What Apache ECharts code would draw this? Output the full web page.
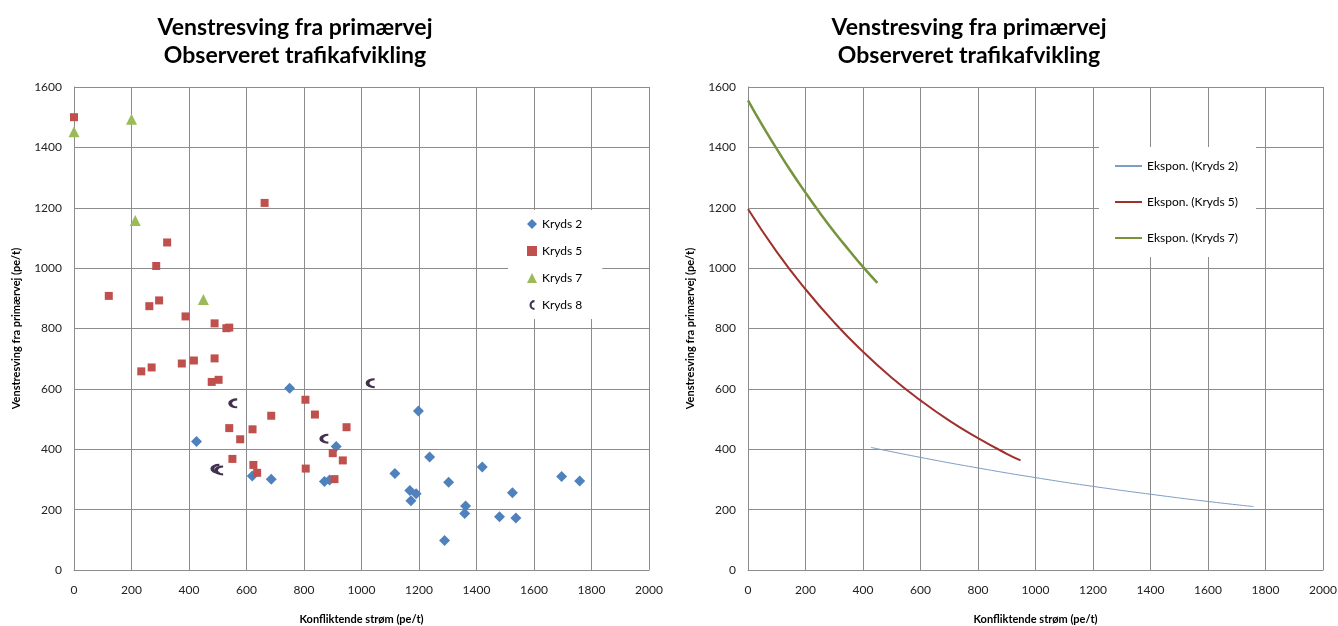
<!DOCTYPE html>
<html>
<head>
<meta charset="utf-8">
<script src="https://cdn.jsdelivr.net/npm/echarts@6/dist/echarts.min.js"></script>
<style>
  html, body { margin: 0; padding: 0; background: #fff; }
  #main { width: 1338px; height: 626px; }
</style>
</head>
<body>
<div id="main"></div>
<script>
// observed points [konfliktende strøm, venstresving]
const kryds2 = [
  [750, 602], [426, 426], [912, 409], [620, 311], [686, 301], [871, 293],
  [889, 298], [1116, 320], [1198, 527], [1237, 374], [1168, 263], [1190, 253],
  [1172, 229], [1303, 291], [1420, 341], [1362, 212], [1359, 187], [1289, 98],
  [1525, 256], [1480, 176], [1537, 172], [1696, 310], [1759, 295]
]
const kryds5 = [
  [0, 1500], [663, 1216], [324, 1085], [286, 1007], [121, 908], [262, 874],
  [296, 893], [388, 840], [489, 817], [530, 801], [540, 803], [234, 658],
  [270, 671], [375, 684], [417, 694], [489, 701], [479, 623], [503, 630],
  [805, 564], [686, 511], [838, 515], [540, 470], [621, 466], [948, 473],
  [578, 433], [900, 387], [935, 363], [551, 368], [624, 348], [637, 322],
  [806, 336], [906, 301]
]
const kryds7 = [[0, 1452], [200, 1493], [213, 1158], [450, 896]]
const kryds8 = [[552, 552], [1030, 619], [869, 435], [490, 335], [503, 330]]

// trendlines
const trend2 = [[428, 406], [600, 373], [800, 338], [1000, 306], [1200, 277], [1400, 251], [1600, 227], [1759, 210]]
const trend5 = [[0, 1196], [100, 1054], [200, 930], [300, 820], [400, 723], [500, 637], [600, 562], [700, 495], [800, 437], [900, 385], [948, 363]]
const trend7 = [[0, 1556], [50, 1473], [100, 1395], [150, 1320], [200, 1250], [250, 1183], [300, 1120], [350, 1061], [400, 1004], [450, 951]]

const titleText = 'Venstresving fra primærvej\nObserveret trafikafvikling'
const xName = 'Konfliktende strøm (pe/t)'
const yName = 'Venstresving fra primærvej (pe/t)'
const font = 'Lato'
const gridColor = '#8c8c8c'

const chart = echarts.init(document.getElementById('main'))

function xAxisFor(i) {
  return {
    type: 'value', gridIndex: i, min: 0, max: 2000, interval: 200,
    name: xName, nameLocation: 'middle', nameGap: 44,
    nameTextStyle: { fontFamily: font, fontSize: 11, fontWeight: 'bold', color: '#000' },
    axisLine: { show: true, lineStyle: { color: gridColor } },
    axisTick: { show: false },
    axisLabel: { fontFamily: font, fontSize: 12, color: '#222', margin: 14, formatter: v => String(v) },
    splitLine: { show: true, lineStyle: { color: gridColor, width: 1 } }
  }
}
function yAxisFor(i) {
  return {
    type: 'value', gridIndex: i, min: 0, max: 1600, interval: 200,
    name: yName, nameLocation: 'middle', nameGap: 52, nameRotate: 90,
    nameTextStyle: { fontFamily: font, fontSize: 11, fontWeight: 'bold', color: '#000' },
    axisLine: { show: true, lineStyle: { color: gridColor } },
    axisTick: { show: false },
    axisLabel: { fontFamily: font, fontSize: 12, color: '#222', margin: 12, formatter: v => String(v) },
    splitLine: { show: true, lineStyle: { color: gridColor, width: 1 } }
  }
}

const cShape = 'path://M9,1 A7,7 0 1,0 9,15 L9,12 A4,4 0 1,1 9,4 Z'
const titleStyle = { fontFamily: font, fontSize: 23, fontWeight: 'bold', color: '#000', lineHeight: 28 }

const option = {
  animation: false,
  backgroundColor: '#fff',
  title: [
    { text: titleText, left: 290, top: 9, textAlign: 'center', textStyle: titleStyle },
    { text: titleText, left: 964, top: 9, textAlign: 'center', textStyle: titleStyle }
  ],
  grid: [
    { left: 74, top: 87, width: 575, height: 483, outerBoundsMode: 'none' },
    { left: 748, top: 87, width: 575, height: 483, outerBoundsMode: 'none' }
  ],
  xAxis: [xAxisFor(0), xAxisFor(1)],
  yAxis: [yAxisFor(0), yAxisFor(1)],
  legend: [
    {
      data: ['Kryds 2', 'Kryds 5', 'Kryds 7', 'Kryds 8'],
      orient: 'vertical', left: 508, top: 210,
      backgroundColor: '#fff', padding: [8, 20, 8, 19],
      itemWidth: 10, itemHeight: 10, itemGap: 15,
      textStyle: { fontFamily: font, fontSize: 12, color: '#000' }
    },
    {
      data: [
        { name: 'Ekspon. (Kryds 2)', icon: 'rect' },
        { name: 'Ekspon. (Kryds 5)', icon: 'rect' },
        { name: 'Ekspon. (Kryds 7)', icon: 'rect' }
      ],
      orient: 'vertical', left: 1099, top: 147,
      backgroundColor: '#fff', padding: [12, 18, 12, 16],
      itemWidth: 27, itemHeight: 2, itemGap: 22,
      textStyle: { fontFamily: font, fontSize: 12, color: '#000', lineHeight: 14 }
    }
  ],
  series: [
    { name: 'Kryds 2', type: 'scatter', xAxisIndex: 0, yAxisIndex: 0, data: kryds2,
      symbol: 'diamond', symbolSize: 11, itemStyle: { color: '#4F81BD', opacity: 1 } },
    { name: 'Kryds 5', type: 'scatter', xAxisIndex: 0, yAxisIndex: 0, data: kryds5,
      symbol: 'rect', symbolSize: 8, itemStyle: { color: '#C0504D', opacity: 1 } },
    { name: 'Kryds 7', type: 'scatter', xAxisIndex: 0, yAxisIndex: 0, data: kryds7,
      symbol: 'triangle', symbolSize: 11, itemStyle: { color: '#9BBB59', opacity: 1 } },
    { name: 'Kryds 8', type: 'scatter', xAxisIndex: 0, yAxisIndex: 0, data: kryds8,
      symbol: cShape, symbolSize: [9, 10], itemStyle: { color: '#403151', opacity: 1 } },
    { name: 'Ekspon. (Kryds 2)', type: 'line', xAxisIndex: 1, yAxisIndex: 1, data: trend2,
      symbol: 'none', smooth: true, lineStyle: { color: '#7E9CC4', width: 1 }, itemStyle: { color: '#7E9CC4' } },
    { name: 'Ekspon. (Kryds 5)', type: 'line', xAxisIndex: 1, yAxisIndex: 1, data: trend5,
      symbol: 'none', smooth: true, lineStyle: { color: '#A0302C', width: 2 }, itemStyle: { color: '#A0302C' } },
    { name: 'Ekspon. (Kryds 7)', type: 'line', xAxisIndex: 1, yAxisIndex: 1, data: trend7,
      symbol: 'none', smooth: true, lineStyle: { color: '#77933C', width: 2.5 }, itemStyle: { color: '#77933C' } }
  ]
}

chart.setOption(option)
</script>
</body>
</html>
